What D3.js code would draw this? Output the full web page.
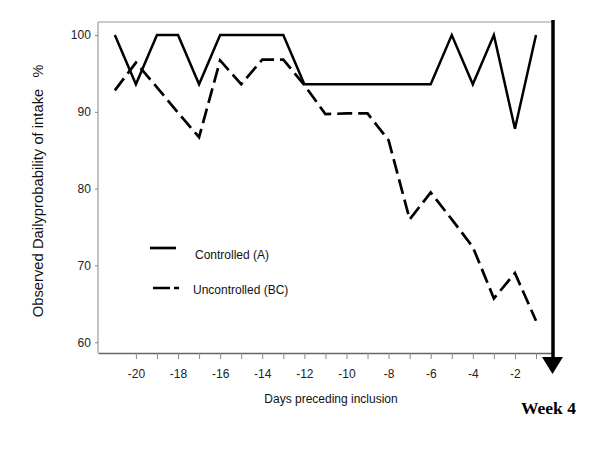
<!DOCTYPE html>
<html><head><meta charset="utf-8">
<script src="https://cdn.jsdelivr.net/npm/d3@7"></script>
<style>body{margin:0;background:#fff}svg{display:block}</style>
</head><body>
<svg id="c" width="600" height="450"></svg>
<script>
const days = [-21,-20,-19,-18,-17,-16,-15,-14,-13,-12,-11,-10,-9,-8,-7,-6,-5,-4,-3,-2,-1];
const controlled = [100,93.6,100,100,93.6,100,100,100,100,93.6,93.6,93.6,93.6,93.6,93.6,93.6,100,93.6,100,87.8,100];
const uncontrolled = [92.8,96.4,93.2,89.9,86.7,96.7,93.6,96.8,96.8,93.5,89.7,89.8,89.8,86.3,76.0,79.5,76.0,72.4,65.7,69.0,62.8];
const yTicks = [60,70,80,90,100];
const xTicks = [-20,-19,-18,-17,-16,-15,-14,-13,-12,-11,-10,-9,-8,-7,-6,-5,-4,-3,-2,-1];
const seriesNames = ["Controlled (A)","Uncontrolled (BC)"];

const svg = d3.select("#c");
const L=98, R=552, T=22, B=353;
const x = d3.scaleLinear().domain([-21.8,-0.24]).range([L,R]);
const y = d3.scaleLinear().domain([58.6,101.7]).range([B,T]);
const font = "Arial, 'Liberation Sans', sans-serif";

// frame
svg.append("line").attr("x1",L).attr("x2",R).attr("y1",T).attr("y2",T).attr("stroke","#bbb").attr("stroke-width",1.5);
svg.append("line").attr("x1",L).attr("x2",L).attr("y1",T).attr("y2",B).attr("stroke","#999").attr("stroke-width",1.2);

// x axis
const xa = svg.append("g").attr("transform",`translate(0,${B})`)
  .call(d3.axisBottom(x).tickValues(xTicks).tickSize(6).tickSizeOuter(0)
    .tickFormat(d => d%2===0 ? d3.format("")(d).replace("−","-") : ""));
xa.select(".domain").attr("stroke","#666").attr("stroke-width",1.3);
xa.selectAll(".tick line").attr("stroke","#888");
xa.selectAll("text").attr("font-family",font).attr("font-size",12).attr("fill","#222").attr("dy","1.3em");

// y axis
const ya = svg.append("g").attr("transform",`translate(${L},0)`)
  .call(d3.axisLeft(y).tickValues(yTicks).tickSize(3).tickSizeOuter(0));
ya.select(".domain").remove();
ya.selectAll(".tick line").attr("stroke","#888");
ya.selectAll("text").attr("font-family",font).attr("font-size",12).attr("fill","#222").attr("dx","-0.1em");

// lines
const line = d3.line().x((d,i)=>x(days[i])).y(d=>y(d));
svg.append("path").datum(controlled).attr("d",line).attr("fill","none")
  .attr("stroke","#000").attr("stroke-width",2.5).attr("stroke-linejoin","miter");
svg.append("path").datum(uncontrolled).attr("d",line).attr("fill","none")
  .attr("stroke","#000").attr("stroke-width",2.7).attr("stroke-dasharray","15,6");

// legend
svg.append("line").attr("x1",150).attr("x2",176).attr("y1",248).attr("y2",248).attr("stroke","#000").attr("stroke-width",2.7);
svg.append("text").attr("x",195).attr("y",259).text(seriesNames[0]).attr("font-family",font).attr("font-size",12).attr("fill","#111");
svg.append("line").attr("x1",153).attr("x2",179).attr("y1",288).attr("y2",288).attr("stroke","#000").attr("stroke-width",2.7).attr("stroke-dasharray","17,4");
svg.append("text").attr("x",193).attr("y",294).text(seriesNames[1]).attr("font-family",font).attr("font-size",12).attr("fill","#111");

// axis titles
svg.append("text").attr("x",331).attr("y",403).attr("text-anchor","middle").text("Days preceding inclusion")
  .attr("font-family",font).attr("font-size",12).attr("fill","#111");
svg.append("text").attr("transform","translate(43,203) rotate(-90)").attr("text-anchor","middle")
  .text("Observed Dailyprobability of intake").attr("font-family",font).attr("font-size",14.8).attr("fill","#111");
svg.append("text").attr("transform","translate(43,71) rotate(-90)").attr("text-anchor","middle")
  .text("%").attr("font-family",font).attr("font-size",14.5).attr("fill","#111");

// week 4 arrow
svg.append("line").attr("x1",553).attr("x2",553).attr("y1",20).attr("y2",360).attr("stroke","#000").attr("stroke-width",3.5);
svg.append("path").attr("d",`M542,357 L563,357 L552.5,374 Z`).attr("fill","#000");
svg.append("text").attr("x",521).attr("y",414).text("Week 4")
  .attr("font-family","'Liberation Serif','Times New Roman',serif").attr("font-weight","bold").attr("font-size",17.5).attr("fill","#000");
</script>
</body></html>
